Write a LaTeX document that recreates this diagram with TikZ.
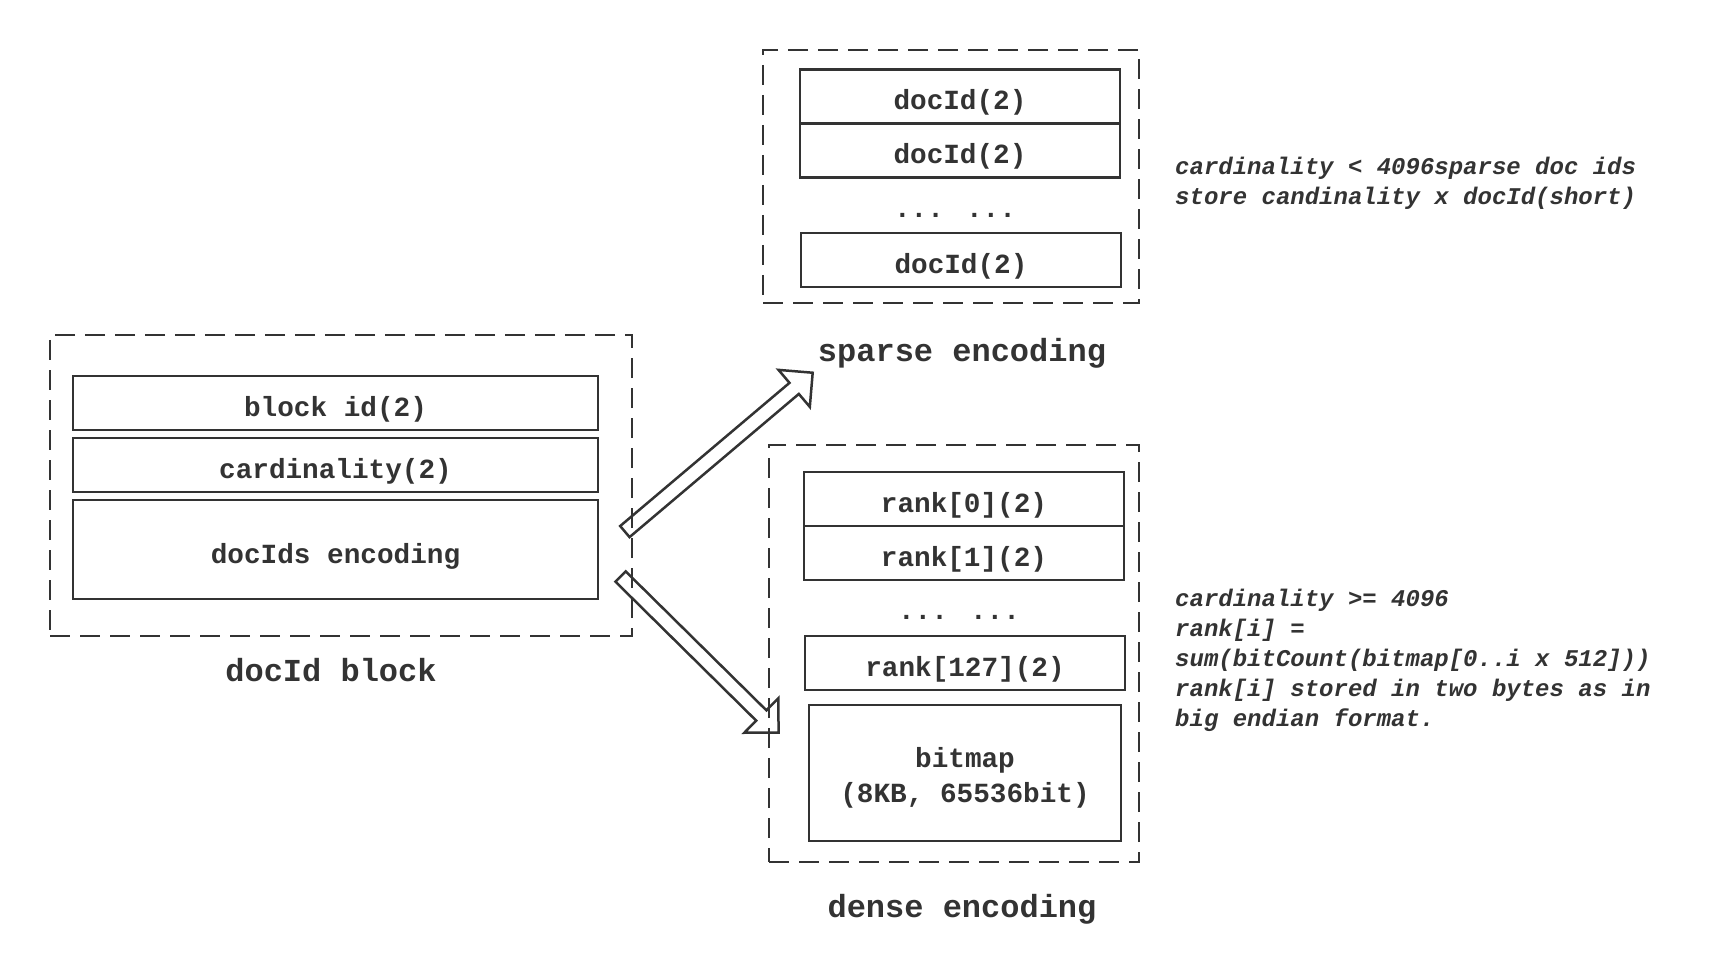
\documentclass[tikz,border=0pt]{standalone}
\usepackage{fontspec}
\setmainfont{Liberation Mono}
\usetikzlibrary{positioning,shapes.arrows}
\definecolor{ink}{HTML}{333333}

\tikzstyle{frame} = [rectangle, draw=ink, line width=2pt, dash pattern=on 20pt off 10pt]
\tikzstyle{box} = [rectangle, draw=ink, line width=2.2pt, minimum height=54pt, inner sep=0pt, outer sep=0pt, text=ink, font=\fontsize{27.7}{35}\selectfont\bfseries]
\tikzstyle{cell} = [box, text height=27pt, text depth=0pt]
\tikzstyle{dotsrow} = [anchor=base, text=ink, font=\fontsize{27.7}{35}\selectfont\bfseries]
\tikzstyle{caption} = [text=ink, font=\fontsize{32}{38}\selectfont\bfseries]
\tikzstyle{note} = [anchor=west, align=left, inner sep=0pt, text=ink, font=\fontsize{24}{30}\selectfont\bfseries\itshape]
\tikzstyle{fatarrow} = [single arrow, draw=ink, line width=2.5pt, inner sep=6pt, single arrow head extend=17pt, single arrow tip angle=90]

\begin{document}
\begin{tikzpicture}[x=1pt, y=-1pt]
\useasboundingbox (0,0) rectangle (1730,976);

% docId block
\node (blockframe) [frame, minimum width=582pt, minimum height=301pt] at (341,485.5) {};
\node (blockid) [cell, minimum width=525pt] at (335.5,403) {block id(2)};
\node (card) [cell, minimum width=525pt, below=8pt of blockid] {cardinality(2)};
\node (docids) [cell, minimum width=525pt, minimum height=99pt, below=8pt of card] {docIds encoding};
\node (blocklabel) [caption] at (331,670) {docId block};

% sparse encoding
\node (sparseframe) [frame, minimum width=376pt, minimum height=253pt] at (951,176.5) {};
\node (doc1) [cell, minimum width=320pt] at (960,96.5) {docId(2)};
\node (doc2) [cell, minimum width=320pt, below=0pt of doc1] {docId(2)};
\node (sparsedots) [dotsrow] at (955,218) {... ...};
\node (docn) [cell, minimum width=320pt] at (961,260) {docId(2)};
\node (sparselabel) [caption] at (962,353) {sparse encoding};
\node (sparsenote) [note] at (1175,183.5) {cardinality < 4096sparse doc ids\\store candinality x docId(short)};

% dense encoding
\node (denseframe) [frame, minimum width=370pt, minimum height=417pt] at (954,653.5) {};
\node (rank0) [cell, minimum width=320pt] at (964,499) {rank[0](2)};
\node (rank1) [cell, minimum width=320pt, below=0pt of rank0] {rank[1](2)};
\node (densedots) [dotsrow] at (959,619) {... ...};
\node (rank127) [cell, minimum width=320pt] at (965,663) {rank[127](2)};
\node (bitmap) [box, minimum width=312pt, minimum height=136pt, align=center, text height=71pt, text depth=13pt] at (965,773) {bitmap\\(8KB, 65536bit)};
\node (denselabel) [caption] at (962,909) {dense encoding};
\node (densenote) [note] at (1175,660) {cardinality >= 4096\\rank[i] =\\sum(bitCount(bitmap[0..i x 512]))\\rank[i] stored in two bytes as in\\big endian format.};

% arrows
\coordinate (upfrom) at (622,534);
\coordinate (upto) at (810,375);
\coordinate (downfrom) at (618,574);
\coordinate (downto) at (776,730);
\path (upfrom) -- (upto) node (uparrow) [fatarrow, midway, sloped, minimum height=246pt] {};
\path (downfrom) -- (downto) node (downarrow) [fatarrow, midway, sloped, minimum height=222pt] {};

\end{tikzpicture}
\end{document}
